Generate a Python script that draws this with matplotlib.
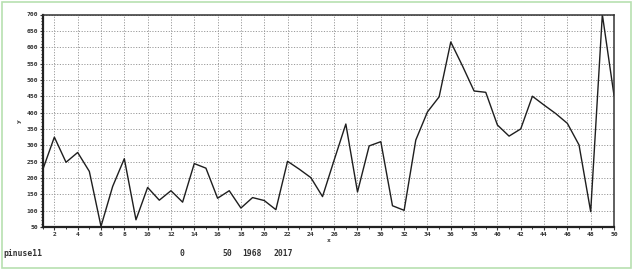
import matplotlib
matplotlib.use("Agg")
import matplotlib.pyplot as plt
from matplotlib.patches import Rectangle
from matplotlib.ticker import MultipleLocator

x_vals = list(range(1, 51))
y_vals = [225, 325, 248, 278, 220, 52, 174, 259, 72, 171,
          132, 161, 126, 244, 230, 138, 161, 108, 140, 131,
          103, 251, 227, 201, 143, 255, 365, 157, 298, 311,
          115, 101, 316, 402, 448, 616, 543, 466, 462, 362,
          328, 350, 450, 423, 397, 367, 301, 97, 700, 453]
x_ticks = list(range(2, 51, 2))
y_ticks = list(range(50, 701, 50))
footer_texts = ["pinuse11", "0", "50", "1968", "2017"]

W, H = 634, 271
fig = plt.figure(figsize=(W / 100, H / 100), dpi=100)
fig.patch.set_facecolor("white")

# green frame around the image
fig.patches.append(Rectangle((2 / W, 1 - 268 / H), (631 - 2) / W, (268 - 2) / H,
                             transform=fig.transFigure, fill=False,
                             edgecolor="#b8e0b0", linewidth=1.2))

left, right, top, bottom = 42.7, 614, 14.5, 227
ax = fig.add_axes([left / W, 1 - bottom / H, (right - left) / W, (bottom - top) / H])
ax.plot(x_vals, y_vals, color="#1e1e1e", linewidth=1.0)
ax.set_xlim(1, 50)
ax.set_ylim(50, 700)
ax.set_xticks(x_ticks)
ax.set_yticks(y_ticks)
ax.xaxis.set_minor_locator(MultipleLocator(1))
ax.yaxis.set_minor_locator(MultipleLocator(10))
ax.grid(True, which="major", linestyle=(0, (1.2, 1.6)), color="#9a9a9a", linewidth=0.7)

for lab in ax.get_xticklabels() + ax.get_yticklabels():
    lab.set_fontfamily("DejaVu Sans Mono")
    lab.set_fontsize(4.6)
    lab.set_fontweight("bold")
    lab.set_color("#333333")
ax.tick_params(axis="both", which="major", length=2, width=0.8, pad=1.5, colors="#333333",
               labelcolor="#333333")
ax.tick_params(axis="both", which="minor", length=1.5, width=0.7, colors="#333333")
for s in ["left", "bottom"]:
    ax.spines[s].set_linewidth(1.6)
    ax.spines[s].set_color("#222222")
for s in ["top", "right"]:
    ax.spines[s].set_linewidth(1.1)
    ax.spines[s].set_color("#333333")

ax.set_xlabel("x", fontfamily="DejaVu Sans Mono", fontsize=4.6, fontweight="bold",
              color="#333333", labelpad=1)
ax.set_ylabel("y", fontfamily="DejaVu Sans Mono", fontsize=4.6, fontweight="bold",
              color="#333333", labelpad=3)

footer_x = [3, 180, 222, 242, 273]
for tx, t in zip(footer_x, footer_texts):
    fig.text(tx / W, 1 - 254 / H, t, fontfamily="DejaVu Sans Mono", fontsize=5.8,
             fontweight="bold", color="#333333", va="center", ha="left")

fig.savefig("out.png", dpi=100)
